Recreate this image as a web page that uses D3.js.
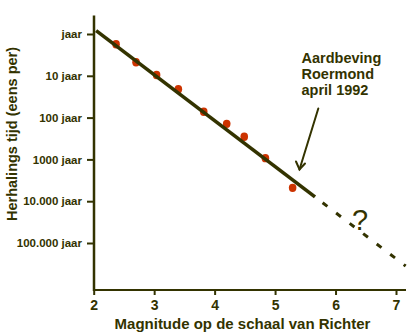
<!DOCTYPE html>
<html>
<head>
<meta charset="utf-8">
<script src="https://cdn.jsdelivr.net/npm/d3@7"></script>
<style>
  html, body { margin: 0; padding: 0; background: #ffffff; }
  svg { display: block; font-family: "Liberation Sans", Arial, sans-serif; }
</style>
</head>
<body>
<svg id="chart" width="409" height="335"></svg>
<script>
// Observed earthquakes: magnitude and return period (years)
const magnitudes = [2.37, 2.70, 3.04, 3.40, 3.82, 4.20, 4.49, 4.84, 5.29];
const periods    = [1.76, 4.75, 9.55, 20.9, 72.4, 141, 288, 933, 4790];

// Trend line: solid over the observed range, dashed extrapolation beyond
const trendMagnitudes = [2.04, 5.66, 7.16];
const trendPeriods    = [0.83, 7900, 356000];

// Axis ticks
const xTicks = [2, 3, 4, 5, 6, 7];
const yTickValues = [1, 10, 100, 1000, 10000, 100000];
const yTickLabels = ["jaar", "10 jaar", "100 jaar", "1000 jaar", "10.000 jaar", "100.000 jaar"];

const ink = "#333300";
const dotColor = "#cc3300";

const svg = d3.select("#chart");

const frame = { left: 94, right: 406, top: 15.5, bottom: 290 };

const x = d3.scaleLinear().domain([2, 7]).range([93.7, 396]);
const y = d3.scaleLog().domain([1, 100000]).range([34, 243]);

// Axis lines
svg.append("line")
  .attr("x1", frame.left).attr("x2", frame.left)
  .attr("y1", frame.top).attr("y2", frame.bottom + 1)
  .attr("stroke", ink).attr("stroke-width", 2.5);
svg.append("line")
  .attr("x1", frame.left - 1).attr("x2", frame.right)
  .attr("y1", frame.bottom).attr("y2", frame.bottom)
  .attr("stroke", ink).attr("stroke-width", 2.2);

// Y axis (log return period)
const yAxis = svg.append("g")
  .attr("transform", `translate(${frame.left},0)`)
  .call(d3.axisLeft(y)
    .tickValues(yTickValues)
    .tickFormat((d, i) => yTickLabels[i])
    .tickSize(7)
    .tickPadding(5));
yAxis.select(".domain").remove();
yAxis.selectAll(".tick line").attr("stroke", ink).attr("stroke-width", 2);
yAxis.selectAll(".tick text")
  .attr("fill", ink)
  .style("font-size", "11.5px")
  .style("font-weight", "bold");

// X axis (magnitude)
const xAxis = svg.append("g")
  .attr("transform", `translate(0,${frame.bottom})`)
  .call(d3.axisBottom(x)
    .tickValues(xTicks)
    .tickFormat(d3.format("d"))
    .tickSize(5)
    .tickPadding(5.5));
xAxis.select(".domain").remove();
xAxis.selectAll(".tick line").attr("stroke", ink).attr("stroke-width", 2);
xAxis.selectAll(".tick text")
  .attr("fill", ink)
  .style("font-size", "14px")
  .style("font-weight", "bold");

// Axis titles
svg.append("text")
  .attr("x", 242.5).attr("y", 328.5)
  .attr("text-anchor", "middle")
  .attr("fill", ink)
  .style("font-size", "15px").style("font-weight", "bold")
  .text("Magnitude op de schaal van Richter");

svg.append("text")
  .attr("transform", "translate(17,134) rotate(-90)")
  .attr("text-anchor", "middle")
  .attr("fill", ink)
  .style("font-size", "14.5px").style("font-weight", "bold")
  .text("Herhalings tijd (eens per)");

// Data points
svg.append("g").selectAll("ellipse")
  .data(magnitudes.map((m, i) => ({ m, t: periods[i] })))
  .join("ellipse")
  .attr("cx", d => x(d.m))
  .attr("cy", d => y(d.t))
  .attr("rx", 3.8).attr("ry", 4.2)
  .attr("fill", dotColor);

// Trend line
const trend = trendMagnitudes.map((m, i) => [x(m), y(trendPeriods[i])]);
svg.append("line")
  .attr("x1", trend[0][0]).attr("y1", trend[0][1])
  .attr("x2", trend[1][0]).attr("y2", trend[1][1])
  .attr("stroke", ink).attr("stroke-width", 3.6);
svg.append("line")
  .attr("x1", trend[1][0]).attr("y1", trend[1][1])
  .attr("x2", trend[2][0]).attr("y2", trend[2][1])
  .attr("stroke", ink).attr("stroke-width", 3)
  .attr("stroke-dasharray", "6,11")
  .attr("stroke-dashoffset", 7.4);

// Question mark over the extrapolation
svg.append("text")
  .attr("x", 360).attr("y", 230)
  .attr("text-anchor", "middle")
  .attr("fill", ink)
  .style("font-size", "29px")
  .text("?");

// Annotation for the Roermond earthquake
const note = svg.append("text")
  .attr("x", 301.5).attr("y", 63)
  .attr("fill", ink)
  .style("font-size", "14.5px").style("font-weight", "bold");
["Aardbeving", "Roermond", "april 1992"].forEach((t, i) => {
  note.append("tspan").attr("x", 301.5).attr("y", 63 + i * 16).text(t);
});

// Arrow pointing at the trend line
const arrow = svg.append("g")
  .attr("stroke", ink).attr("stroke-width", 2)
  .attr("fill", "none").attr("stroke-linecap", "round");
arrow.append("line")
  .attr("x1", 318.3).attr("y1", 108.5)
  .attr("x2", 299.5).attr("y2", 169.5);
arrow.append("polyline")
  .attr("points", "296,161.5 299.5,169.5 305,163.5");
</script>
</body>
</html>
